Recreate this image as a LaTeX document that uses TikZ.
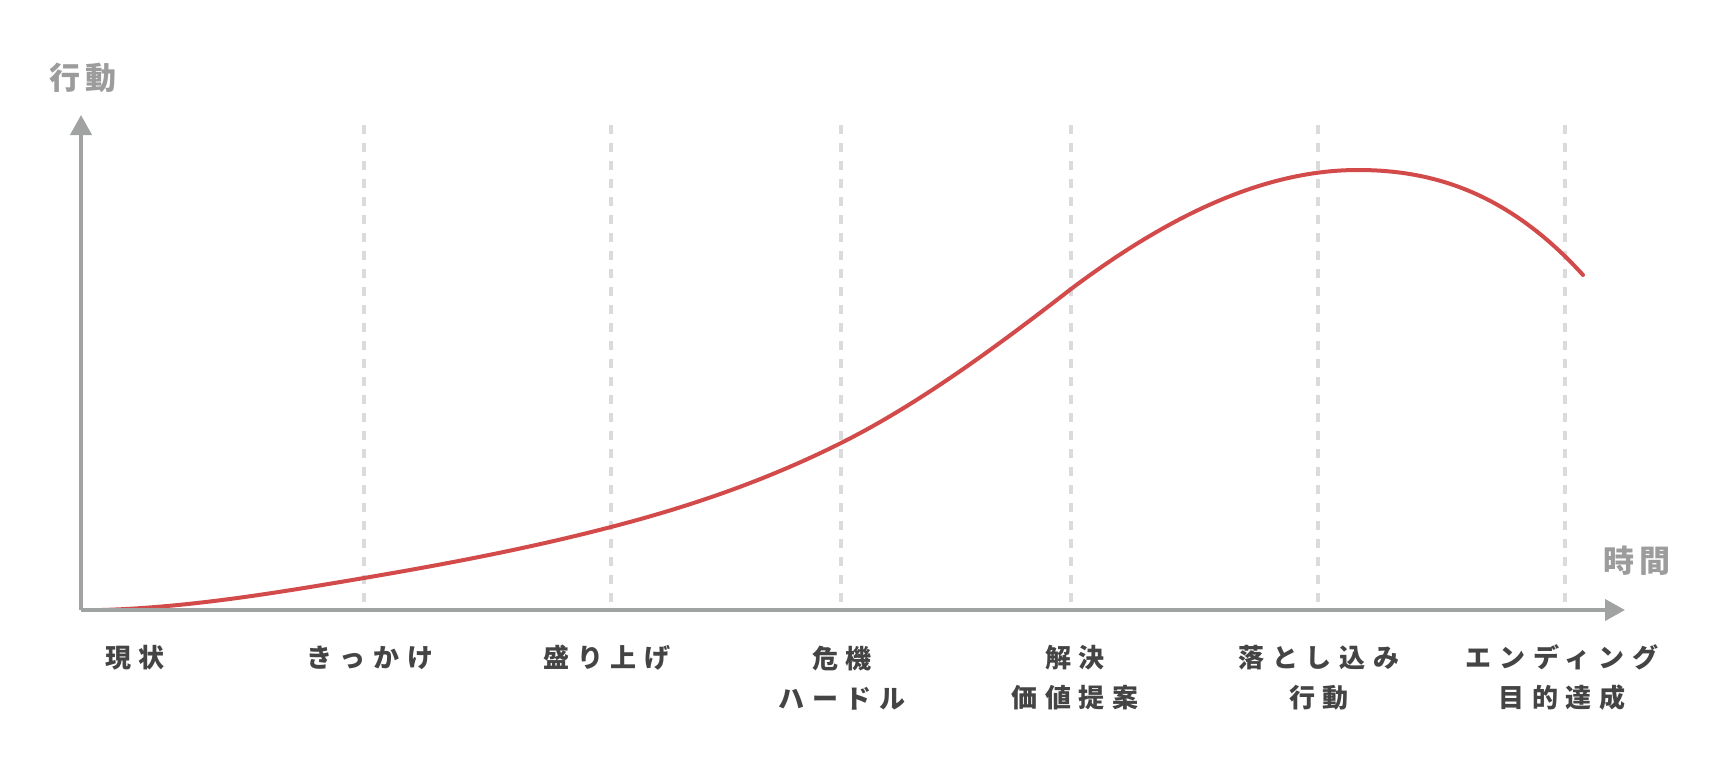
\documentclass[tikz,border=0pt]{standalone}
\usepackage{fontspec}
\newfontfamily\jp[LetterSpace=30]{Noto Sans CJK JP}
\newfontfamily\jpax[LetterSpace=18]{Noto Sans CJK JP}
\usetikzlibrary{arrows.meta}
\definecolor{axisgray}{RGB}{160,163,162}
\definecolor{titlegray}{RGB}{156,156,156}
\definecolor{dashgray}{RGB}{219,219,221}
\definecolor{labelgray}{RGB}{68,68,68}
\definecolor{curvered}{RGB}{210,74,74}
\tikzset{
  axisline/.style={draw=axisgray, line width=4pt, -{Triangle[length=20pt,width=21pt]}},
  guide/.style={draw=dashgray, line width=4pt, dash pattern=on 9pt off 9pt},
  stagelabel/.style={font=\jp\bfseries\fontsize{26}{40}\selectfont, text=labelgray, align=center, inner sep=0pt, xshift=1pt},
  axistitle/.style={font=\jpax\bfseries\fontsize{31}{36}\selectfont, text=titlegray, inner sep=0pt, xshift=1pt},
  curve/.style={draw=curvered, line width=4pt, line cap=round}
}
\begin{document}
\begin{tikzpicture}[x=1pt,y=-1pt]
\useasboundingbox (0,0) rectangle (1724,776);
% guides
\foreach \gx [count=\i] in {364,611,841,1071,1318,1565} {
  \coordinate (gt\i) at (\gx,125);
  \coordinate (gb\i) at (\gx,605);
  \draw[guide] (gt\i) -- (gb\i);
}
% curve
\coordinate (c0) at (102,610);
\coordinate (c1) at (364,578);
\coordinate (c2) at (611,527);
\coordinate (c3) at (841,443);
\coordinate (c4) at (1071,289);
\coordinate (c5) at (1358,170);
\coordinate (c6) at (1583,275);
\draw[curve] (c0)
  .. controls (189.3,607.4) and (276.7,592.8) .. (c1)
  .. controls (446.3,564.0) and (528.7,548.4) .. (c2)
  .. controls (687.7,507.1) and (764.3,481.4) .. (c3)
  .. controls (917.7,404.6) and (994.3,348.5) .. (c4)
  .. controls (1166.7,217.2) and (1262.3,170) .. (c5)
  .. controls (1433,170) and (1508,192.5) .. (c6);
% axes
\coordinate (O) at (81,610);
\coordinate (Ytop) at (81,115);
\coordinate (Xend) at (1625,610);
\draw[axisline] (O) -- (Ytop);
\draw[axisline] (O) -- (Xend);
\node[axistitle] (ylab) at (82,78) {行動};
\node[axistitle] (xlab) at (1636,561) {時間};
% stage labels
\node[stagelabel] (s1) at (134,658) {現状};
\node[stagelabel] (s2) at (369,658) {きっかけ};
\node[stagelabel] (s3) at (606,658) {盛り上げ};
\node[stagelabel] (s4) at (841,678) {危機\\ハードル};
\node[stagelabel] (s5) at (1074,678) {解決\\価値提案};
\node[stagelabel] (s6) at (1318,678) {落とし込み\\行動};
\node[stagelabel] (s7) at (1561,678) {エンディング\\目的達成};
\end{tikzpicture}
\end{document}
